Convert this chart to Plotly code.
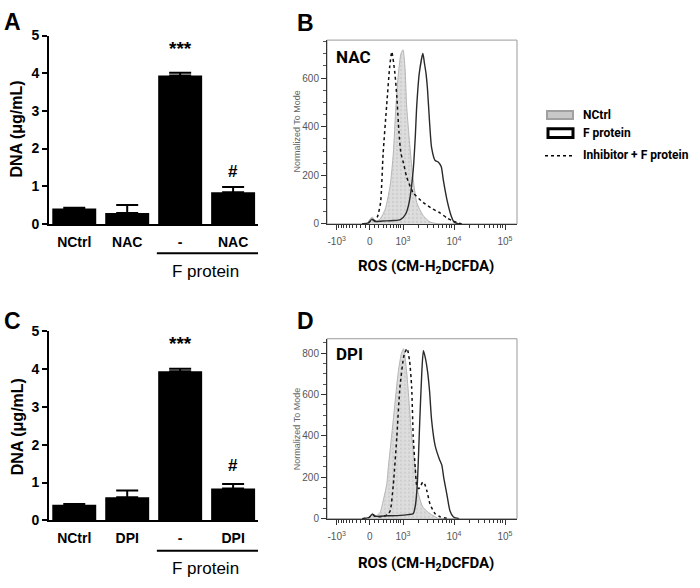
import numpy as np
import plotly.graph_objects as go

W, H = 700, 588

# ---- bar panels (A: NAC, C: DPI) ----
bar_pos = [0, 1, 2, 3]
labels_a = ["NCtrl", "NAC", "-", "NAC"]
labels_c = ["NCtrl", "DPI", "-", "DPI"]
dna_a = [0.41, 0.29, 3.94, 0.84]
err_a = [0.02, 0.21, 0.07, 0.14]
dna_c = [0.41, 0.61, 3.94, 0.84]
err_c = [0.02, 0.18, 0.07, 0.12]

# ---- flow histograms, x in display channel (decades: 10^3 = 3, 10^4 = 4) ----
ncTRL_b_x = [2.20, 2.30, 2.36, 2.40, 2.45, 2.50, 2.55, 2.65, 2.75, 2.81, 2.86,
             2.91, 2.96, 3.00, 3.04, 3.07, 3.12, 3.18, 3.27, 3.39, 3.53, 3.70]
ncTRL_b_y = [0, 4, 22, 28, 14, 14, 20, 60, 160, 290, 480,
             620, 700, 716, 640, 490, 356, 220, 88, 36, 8, 0]
inh_b_x = [2.20, 2.33, 2.39, 2.45, 2.50, 2.56, 2.61, 2.68, 2.74, 2.78, 2.84,
           2.88, 2.92, 2.96, 3.01, 3.07, 3.20, 3.40, 3.58, 3.73, 3.86, 3.98, 4.15]
inh_b_y = [0, 6, 18, 14, 30, 88, 288, 488, 648, 708, 621,
           520, 380, 290, 250, 195, 128, 88, 62, 45, 25, 12, 0]
fprot_b_x = [2.20, 2.33, 2.39, 2.45, 2.60, 2.80, 2.95, 3.05, 3.12, 3.20, 3.24,
             3.27, 3.32, 3.39, 3.42, 3.45, 3.48, 3.52, 3.56, 3.63, 3.69, 3.75,
             3.79, 3.86, 3.94, 4.00, 4.10]
fprot_b_y = [0, 5, 20, 10, 12, 14, 18, 40, 88, 221, 355,
             488, 621, 701, 661, 621, 555, 421, 315, 261, 255, 235,
             181, 101, 36, 8, 0]

ncTRL_d_x = [2.20, 2.33, 2.40, 2.46, 2.55, 2.61, 2.68, 2.71, 2.81, 2.91, 2.97,
             3.01, 3.07, 3.17, 3.24, 3.29, 3.39, 3.53, 3.70]
ncTRL_d_y = [0, 6, 26, 12, 30, 86, 165, 243, 479, 715, 800,
             822, 715, 400, 245, 133, 56, 24, 0]
inh_d_x = [2.20, 2.33, 2.40, 2.46, 2.60, 2.70, 2.75, 2.81, 2.88, 2.94, 3.02,
           3.08, 3.13, 3.17, 3.20, 3.24, 3.27, 3.31, 3.35, 3.39, 3.43, 3.47,
           3.53, 3.63, 3.73, 3.90]
inh_d_y = [0, 5, 20, 10, 10, 20, 39, 165, 400, 635, 790,
           823, 760, 635, 400, 245, 160, 145, 160, 178, 165, 133,
           71, 24, 9, 0]
fprot_d_x = [2.20, 2.33, 2.40, 2.46, 2.70, 2.95, 3.10, 3.20, 3.24, 3.28, 3.33,
             3.37, 3.40, 3.44, 3.48, 3.52, 3.56, 3.63, 3.71, 3.76, 3.80, 3.86,
             3.92, 3.99, 4.10]
fprot_d_y = [0, 5, 22, 12, 14, 16, 20, 24, 60, 165, 480,
             715, 812, 775, 715, 620, 479, 353, 290, 260, 196, 118,
             39, 8, 0]

flow_tickvals = [1.70, 2.35, 3.0, 4.0, 5.0]
flow_ticktext = ["-10<sup>3</sup>", "0", "10<sup>3</sup>", "10<sup>4</sup>", "10<sup>5</sup>"]


def px_x(p):
    return p / W


def px_y(p):
    return 1 - p / H


# minor ticks on the biexponential-looking axis
def _lin(v):
    return 2.35 + np.arcsinh(v / 472.0) / np.log(10)


minor_flow = [float(_lin(s * k * 100)) for s in (-1, 1) for k in range(1, 10)]
minor_flow += [float(d + np.log10(k)) for d in (3, 4) for k in range(2, 10)]

ARIAL = "Liberation Sans, Arial, sans-serif"
CALI = "Roboto, Lato, sans-serif"

fig = go.Figure()

# bar traces
for vals, errs, xa, ya in [(dna_a, err_a, "x", "y"), (dna_c, err_c, "x2", "y2")]:
    fig.add_bar(x=bar_pos, y=vals, width=0.83, marker_color="black",
                marker_line_width=0, xaxis=xa, yaxis=ya, showlegend=False,
                error_y=dict(type="data", array=errs, arrayminus=[0] * 4,
                             symmetric=False, color="black", thickness=2, width=11))

# histogram traces
for gx, gy, ix, iy, fx, fy, xa, ya in [
        (ncTRL_b_x, ncTRL_b_y, inh_b_x, inh_b_y, fprot_b_x, fprot_b_y, "x3", "y3"),
        (ncTRL_d_x, ncTRL_d_y, inh_d_x, inh_d_y, fprot_d_x, fprot_d_y, "x4", "y4")]:
    fig.add_trace(go.Scatter(
        x=gx, y=gy, xaxis=xa, yaxis=ya, mode="lines", fill="tozeroy",
        line=dict(color="#b4b4b4", width=1, shape="spline", smoothing=0.6),
        fillcolor="#dcdcdc",
        fillpattern=dict(shape=".", bgcolor="#dddddd", fgcolor="#bdbdbd",
                         size=4, solidity=0.25),
        showlegend=False))
    fig.add_trace(go.Scatter(
        x=ix, y=iy, xaxis=xa, yaxis=ya, mode="lines",
        line=dict(color="#111111", width=1.5, dash="dot", shape="spline", smoothing=0.6),
        showlegend=False))
    fig.add_trace(go.Scatter(
        x=fx, y=fy, xaxis=xa, yaxis=ya, mode="lines",
        line=dict(color="#2a2a2a", width=1.4, shape="spline", smoothing=0.6),
        showlegend=False))

bold14 = dict(family=ARIAL, size=14, color="black", weight="bold")
bar_x = dict(domain=[px_x(49), px_x(258)], range=[-0.477, 3.47], showline=True,
             linecolor="black", linewidth=2, ticks="", tickvals=bar_pos,
             tickfont=bold14, ticklabelstandoff=4, showgrid=False,
             zeroline=False)
bar_y = dict(range=[0, 5], dtick=1, showline=True, linecolor="black", linewidth=2,
             ticks="outside", ticklen=5, tickwidth=2, tickcolor="black",
             tickfont=bold14, showgrid=False, zeroline=False)

flow_x = dict(domain=[px_x(327), px_x(517)], range=[1.51, 5.235], showline=True,
              linecolor="#333333", linewidth=1, ticks="outside", ticklen=5,
              tickcolor="#333333", tickvals=flow_tickvals, ticktext=flow_ticktext,
              tickfont=dict(family=ARIAL, size=10, color="#555555"),
              ticklabelstandoff=3,
              minor=dict(tickvals=minor_flow, ticks="outside", ticklen=3,
                         tickcolor="#333333"),
              showgrid=False, zeroline=False)
flow_y = dict(showline=True, linecolor="#333333", linewidth=1, ticks="outside",
              ticklen=5, tickcolor="#333333", dtick=200,
              tickfont=dict(family=ARIAL, size=10, color="#555555"),
              minor=dict(dtick=50, ticks="outside", ticklen=3, tickcolor="#555555"),
              showgrid=False, zeroline=False)

fig.update_layout(
    width=W, height=H, margin=dict(l=0, r=0, t=0, b=0),
    paper_bgcolor="white", plot_bgcolor="rgba(0,0,0,0)",
    xaxis=dict(bar_x, anchor="y", ticktext=labels_a),
    yaxis=dict(bar_y, anchor="x", domain=[px_y(222), px_y(28.3)]),
    xaxis2=dict(bar_x, anchor="y2", ticktext=labels_c),
    yaxis2=dict(bar_y, anchor="x2", domain=[px_y(526.7), px_y(332.3)]),
    xaxis3=dict(flow_x, anchor="y3"),
    yaxis3=dict(flow_y, anchor="x3", range=[0, 756], domain=[px_y(222), px_y(33)]),
    xaxis4=dict(flow_x, anchor="y4"),
    yaxis4=dict(flow_y, anchor="x4", range=[0, 870], domain=[px_y(525), px_y(340)]),
)

shapes = []
ann = []


def note(text, x, y, size, family=ARIAL, color="black", bold=True, angle=0,
         xanchor="center", xref="paper", yref="paper"):
    ann.append(dict(text=text, x=x, y=y, xref=xref, yref=yref, showarrow=False,
                    xanchor=xanchor, yanchor="middle", textangle=angle,
                    font=dict(family=family, size=size, color=color,
                              weight="bold" if bold else "normal")))


# bar panel extras
for xa, ya, top, line_y, fp_y, star_y, hash_y in [
        ("x", "y", 0, 252, 271, 4.66, 1.39),
        ("x2", "y2", 306, 558, 576, 4.68, 1.46)]:
    shapes.append(dict(type="line", xref=xa, yref="paper", x0=1.56, x1=3.47,
                       y0=px_y(line_y), y1=px_y(line_y),
                       line=dict(color="black", width=2)))
    note("F protein", px_x(206), px_y(fp_y), 17, bold=False)
    note("***", 2, star_y, 19, xref=xa, yref=ya)
    note("#", 3, hash_y, 17, xref=xa, yref=ya)
    note("DNA (μg/mL)", px_x(17), px_y(top + 125), 16, angle=-90)

# flow panel extras
for xa, ya, top, tag in [("x3", "y3", 0, "NAC"), ("x4", "y4", 306, "DPI")]:
    shapes.append(dict(type="rect", xref=xa + " domain", yref=ya + " domain",
                       x0=0, x1=1, y0=0, y1=1, layer="below",
                       line=dict(color="#9a9a9a", width=1)))
    note(tag, px_x(334), px_y(top + 50), 17, family=CALI, xanchor="left")
    note("Normalized To Mode", px_x(297), px_y(top + 127), 9, bold=False,
         color="#666666", angle=-90)
    note("ROS (CM-H<sub>2</sub>DCFDA)", px_x(426), px_y(top + 266), 15, family=CALI)

# panel letters
for letter, x, y in [("A", 12, 14), ("B", 305, 15), ("C", 12, 322), ("D", 305, 322)]:
    note(letter, px_x(x), px_y(y), 23)

# legend
shapes.append(dict(type="rect", xref="paper", yref="paper",
                   x0=px_x(547), x1=px_x(573), y0=px_y(114), y1=px_y(106),
                   fillcolor="#c8c8c8", line=dict(color="#a0a0a0", width=2)))
shapes.append(dict(type="rect", xref="paper", yref="paper",
                   x0=px_x(548), x1=px_x(573), y0=px_y(133), y1=px_y(124),
                   fillcolor="white", line=dict(color="black", width=3)))
shapes.append(dict(type="line", xref="paper", yref="paper",
                   x0=px_x(545), x1=px_x(573), y0=px_y(152), y1=px_y(152),
                   line=dict(color="black", width=1.5, dash="dot")))
note("NCtrl", px_x(581), px_y(110), 12, family=CALI, xanchor="left")
note("F protein", px_x(581), px_y(129), 12, family=CALI, xanchor="left")
note("Inhibitor + F protein", px_x(581), px_y(151), 12, family=CALI, xanchor="left")

fig.update_layout(shapes=shapes, annotations=ann)

# the page's default body margin would push the figure off the window edge
fig.write_html("out.html", config={"displayModeBar": False},
               post_script="document.body.style.margin = '0px';")
